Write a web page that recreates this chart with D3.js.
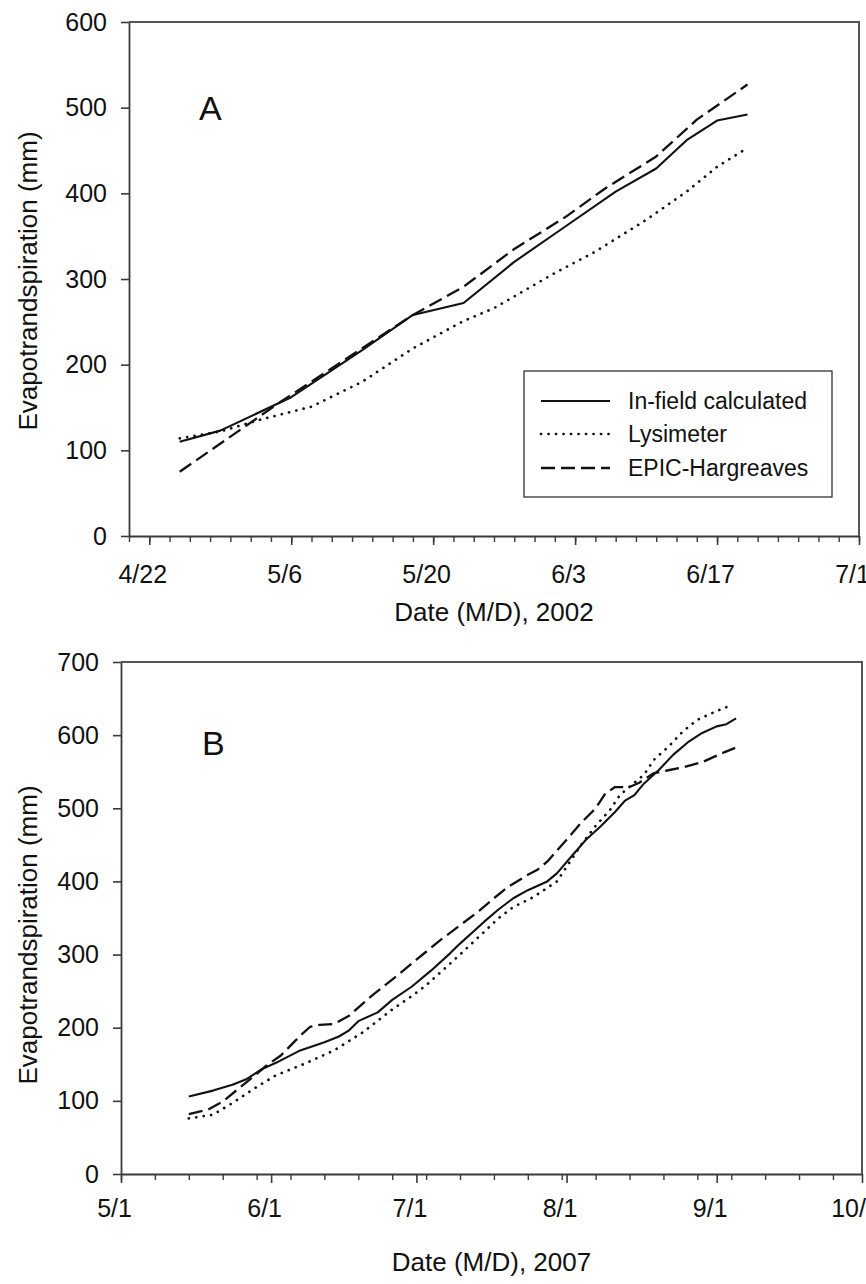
<!DOCTYPE html>
<html>
<head>
<meta charset="utf-8">
<script src="https://cdn.jsdelivr.net/npm/d3@7"></script>
<style>
body { margin: 0; background: #fff; }
svg { display: block; font-family: "Liberation Sans", Arial, sans-serif; }
</style>
</head>
<body>
<svg id="chart" width="866" height="1284"></svg>
<script>
var seriesNames = ['In-field calculated', 'Lysimeter', 'EPIC-Hargreaves'];
var yTitle = 'Evapotrandspiration (mm)';

// panel A, 2002
var aInfieldDates = ['4/25','4/29','5/6','5/13','5/18','5/23','5/28','6/2','6/7','6/11','6/14','6/17','6/20'];
var aInfield      = [110, 123, 162, 217, 258, 272, 320, 361, 402, 429, 462, 485, 492];
var aLysDates = ['4/25','4/29','5/3','5/8','5/13','5/18','5/23','5/26','6/1','6/5','6/10','6/14','6/17','6/20'];
var aLys      = [114, 122, 136, 151, 180, 219, 251, 266, 307, 332, 369, 402, 431, 453];
var aEpicDates = ['4/25','5/5','5/18','5/23','5/28','6/2','6/6','6/11','6/15','6/20'];
var aEpic      = [75, 157, 258, 291, 335, 372, 406, 443, 486, 527];
var aXTicks = ['4/22','5/6','5/20','6/3','6/17','7/1'];
var aYTicks = [0, 100, 200, 300, 400, 500, 600];

// panel B, 2007
var bInfieldDates = ['5/15','5/20','5/24','5/27','5/30','6/2','6/7','6/12','6/15','6/17','6/19','6/23','6/26','6/30','7/4','7/8','7/10','7/15','7/18','7/21','7/24','7/28','7/30','8/2','8/5','8/8','8/11','8/13','8/15','8/17','8/20','8/23','8/26','8/29','9/1','9/3','9/5'];
var bInfield      = [106, 114, 122, 130, 143, 152, 169, 180, 188, 196, 209, 221, 238, 256, 278, 302, 315, 345, 362, 377, 388, 400, 411, 434, 457, 475, 495, 510, 518, 534, 552, 573, 590, 603, 612, 615, 623];
var bLysDates = ['5/15','5/20','5/24','5/29','6/2','6/8','6/14','6/20','6/26','6/30','7/3','7/7','7/10','7/14','7/18','7/21','7/25','7/30','8/4','8/7','8/10','8/12','8/15','8/17','8/19','8/22','8/25','8/28','9/1','9/4'];
var bLys      = [76, 81, 97, 119, 135, 151, 169, 194, 225, 243, 258, 282, 300, 325, 350, 365, 378, 400, 450, 476, 498, 518, 535, 546, 566, 584, 605, 621, 633, 641];
var bEpicDates = ['5/15','5/19','5/22','5/27','5/31','6/3','6/7','6/9','6/11','6/14','6/17','6/22','6/27','7/1','7/6','7/10','7/14','7/17','7/20','7/24','7/26','7/28','8/1','8/4','8/7','8/9','8/11','8/14','8/16','8/19','8/22','8/25','8/29','9/2','9/5'];
var bEpic      = [82, 88, 99, 126, 148, 162, 189, 201, 204, 205, 216, 245, 271, 293, 320, 340, 360, 377, 393, 409, 416, 427, 457, 480, 500, 520, 529, 529, 535, 548, 552, 556, 563, 575, 583];
var bXTicks = ['5/1','6/1','7/1','8/1','9/1','10/1'];
var bYTicks = [0, 100, 200, 300, 400, 500, 600, 700];

var styles = [
    {width: 2.1, dash: null, cap: 'butt'},
    {width: 2.7, dash: '0.1,7.4', cap: 'round'},
    {width: 2.3, dash: '14,6', cap: 'butt'}
];

var svg = d3.select('#chart');
var ink = '#111';
var axisInk = '#3a3a3a';

var parser = function(year) {
    var p = d3.timeParse('%m/%d/%Y');
    return function(s) { return p(s + '/' + year); };
};

var zip = function(dates, vals, parse) {
    return dates.map(function(d, i) { return {date: parse(d), v: vals[i]}; });
};

var drawPanel = function(cfg) {
    var parse = parser(cfg.year);
    var x = d3.scaleTime().domain([parse(cfg.start), parse(cfg.end)]).range([cfg.left, cfg.right]);
    var y = d3.scaleLinear().domain([0, d3.max(cfg.yTicks)]).range([cfg.bottom, cfg.top]);
    var g = svg.append('g');

    // minor ticks
    var minors = d3.timeDay.range(parse(cfg.start), d3.timeDay.offset(parse(cfg.end), 1), cfg.minorStep);
    g.append('g').attr('transform', 'translate(0,' + cfg.bottom + ')')
        .call(d3.axisBottom(x).tickValues(minors).tickSize(6).tickSizeOuter(0).tickFormat(''))
        .call(function(a) { a.select('.domain').remove(); a.selectAll('line').attr('stroke', axisInk).attr('stroke-width', 1.4); });

    var xa = g.append('g').attr('transform', 'translate(0,' + cfg.bottom + ')')
        .call(d3.axisBottom(x).tickValues(cfg.xTicks.map(parse)).tickSize(9).tickSizeOuter(0).tickPadding(cfg.xPad)
            .tickFormat(function(d, i) { return cfg.xTicks[i]; }));
    xa.select('.domain').attr('stroke', axisInk).attr('stroke-width', 1.8);
    xa.selectAll('line').attr('stroke', axisInk).attr('stroke-width', 1.6);
    xa.selectAll('text').attr('fill', ink).attr('font-size', 25).attr('x', -7)
        .attr('font-family', '"Liberation Sans", Arial, sans-serif');

    var ya = g.append('g').attr('transform', 'translate(' + cfg.left + ',0)')
        .call(d3.axisLeft(y).tickValues(cfg.yTicks).tickSize(8).tickSizeOuter(0).tickPadding(14));
    ya.select('.domain').attr('stroke', axisInk).attr('stroke-width', 1.8);
    ya.selectAll('line').attr('stroke', axisInk).attr('stroke-width', 1.6);
    ya.selectAll('text').attr('fill', ink).attr('font-size', 25)
        .attr('font-family', '"Liberation Sans", Arial, sans-serif');

    // top and right border
    g.append('path')
        .attr('d', 'M' + cfg.left + ',' + cfg.top + 'H' + cfg.right + 'V' + cfg.bottom)
        .attr('fill', 'none').attr('stroke', '#555').attr('stroke-width', 2);

    var line = d3.line().x(function(d) { return x(d.date); }).y(function(d) { return y(d.v); });
    cfg.series.forEach(function(s, i) {
        g.append('path').datum(zip(s[0], s[1], parse))
            .attr('d', line)
            .attr('fill', 'none')
            .attr('stroke', ink)
            .attr('stroke-width', styles[i].width)
            .attr('stroke-dasharray', styles[i].dash)
            .attr('stroke-linecap', styles[i].cap)
            .attr('stroke-linejoin', 'round');
    });

    g.append('text').attr('x', cfg.letterX).attr('y', cfg.letterY)
        .attr('font-size', 34).attr('fill', ink).text(cfg.letter);

    g.append('text')
        .attr('x', (cfg.left + cfg.right) / 2).attr('y', cfg.xTitleY)
        .attr('text-anchor', 'middle').attr('font-size', 26).attr('fill', ink)
        .text(cfg.xTitle);

    g.append('text')
        .attr('transform', 'translate(37,' + cfg.yTitleMid + ') rotate(-90)')
        .attr('text-anchor', 'middle').attr('font-size', 26).attr('fill', ink)
        .text(yTitle);
    return g;
};

var ga = drawPanel({
    year: 2002, start: '4/20', end: '7/1', minorStep: 2,
    left: 129, right: 859, top: 22, bottom: 536, xPad: 20,
    xTicks: aXTicks, yTicks: aYTicks,
    series: [[aInfieldDates, aInfield], [aLysDates, aLys], [aEpicDates, aEpic]],
    letter: 'A', letterX: 199, letterY: 120,
    xTitle: 'Date (M/D), 2002', xTitleY: 621, yTitleMid: 281
});

drawPanel({
    year: 2007, start: '5/1', end: '10/1', minorStep: 7,
    left: 121, right: 862, top: 662, bottom: 1174, xPad: 16,
    xTicks: bXTicks, yTicks: bYTicks,
    series: [[bInfieldDates, bInfield], [bLysDates, bLys], [bEpicDates, bEpic]],
    letter: 'B', letterX: 202, letterY: 755,
    xTitle: 'Date (M/D), 2007', xTitleY: 1271, yTitleMid: 935
});

// legend in panel A
var leg = ga.append('g');
leg.append('rect').attr('x', 524).attr('y', 371).attr('width', 308).attr('height', 126)
    .attr('fill', '#fff').attr('stroke', '#333').attr('stroke-width', 1.3);
var legRows = [401, 434, 468];
seriesNames.forEach(function(name, i) {
    leg.append('line').attr('x1', 541).attr('x2', 610).attr('y1', legRows[i]).attr('y2', legRows[i])
        .attr('stroke', ink).attr('stroke-width', styles[i].width)
        .attr('stroke-dasharray', styles[i].dash).attr('stroke-linecap', styles[i].cap);
    leg.append('text').attr('x', 628).attr('y', legRows[i]).attr('dy', '0.36em')
        .attr('font-size', 23).attr('fill', ink).text(name);
});
</script>
</body>
</html>
